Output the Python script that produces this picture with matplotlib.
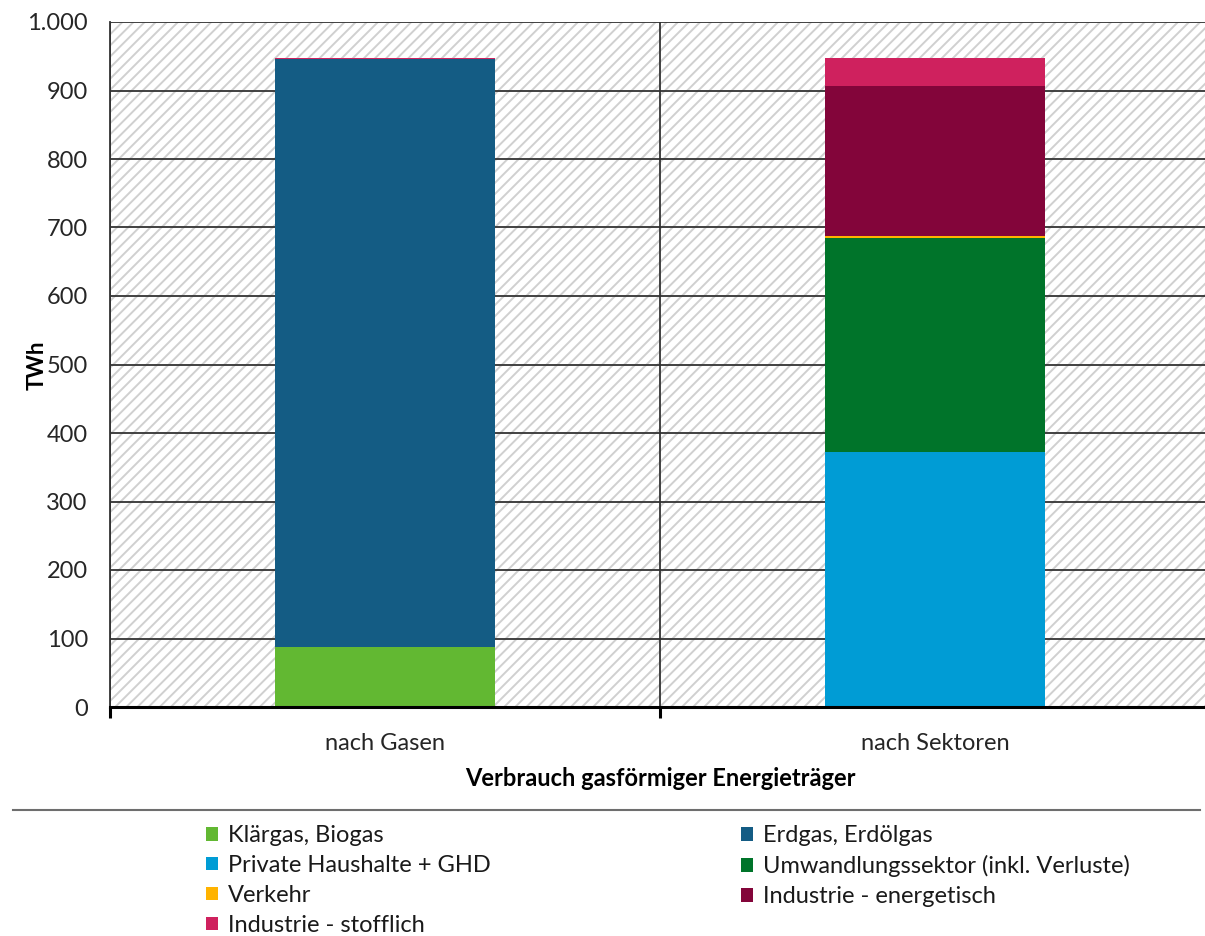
import matplotlib
matplotlib.use("Agg")
import matplotlib.pyplot as plt
from matplotlib.patches import Patch, Rectangle
from matplotlib.lines import Line2D
from matplotlib.ticker import FuncFormatter, FixedLocator

plt.rcParams['font.family'] = ['Lato', 'DejaVu Sans']
plt.rcParams['hatch.linewidth'] = 1.4

categories = ["nach Gasen", "nach Sektoren"]
series_names = ["Klärgas, Biogas", "Erdgas, Erdölgas", "Private Haushalte + GHD",
                "Umwandlungssektor (inkl. Verluste)", "Verkehr",
                "Industrie - energetisch", "Industrie - stofflich"]
klaergas = [87, 0]
erdgas = [859, 0]
private = [0, 372]
umwandlung = [0, 312]
verkehr = [0, 3]
energetisch = [0, 220]
stofflich = [1.5, 40]
colors = ["#62B832", "#145C84", "#009CD5", "#00742A", "#FFB300", "#83053A", "#CF215E"]
yticks = [0, 100, 200, 300, 400, 500, 600, 700, 800, 900, 1000]
y_label = "TWh"
x_label = "Verbrauch gasförmiger Energieträger"

W, H = 1205, 936
fig = plt.figure(figsize=(W / 100, H / 100), dpi=100)
ax = fig.add_axes([110 / W, 1 - 707 / H, 1100 / W, 685 / H])

# hatched background
bg = Rectangle((0, 0), 1, 1, transform=ax.transAxes, facecolor="white",
               edgecolor="#d0d0d0", hatch="///", linewidth=0, zorder=0)
ax.add_patch(bg)

x = [0, 1]
all_series = [klaergas, erdgas, private, umwandlung, verkehr, energetisch, stofflich]
bottom = [0, 0]
handles = []
for name, vals, c in zip(series_names, all_series, colors):
    ax.bar(x, vals, width=0.4, bottom=bottom, color=c, linewidth=0, zorder=3)
    bottom = [b + v for b, v in zip(bottom, vals)]
    handles.append(Patch(facecolor=c, edgecolor="none", label=name))

ax.set_xlim(-0.5, 1.5)
ax.set_ylim(0, 1000)
ax.set_yticks(yticks)
ax.yaxis.set_major_formatter(FuncFormatter(lambda v, p: f"{int(v):,}".replace(",", ".")))
ax.set_xticks(x)
ax.set_xticklabels(categories)
ax.xaxis.set_minor_locator(FixedLocator([-0.5, 0.5, 1.5]))
ax.tick_params(axis="x", which="major", length=0, labelsize=17, colors="#262626", pad=19)
ax.tick_params(axis="x", which="minor", length=8, width=2.2, direction="out", color="black")
ax.tick_params(axis="y", length=0, labelsize=17, colors="#262626", pad=16)

ax.grid(axis="y", color="#333333", linewidth=1.3, zorder=1)
ax.grid(axis="x", which="minor", color="#333333", linewidth=1.3, zorder=1)
ax.set_axisbelow(True)

for s in ["top", "right"]:
    ax.spines[s].set_visible(False)
ax.spines["left"].set_color("#333333")
ax.spines["left"].set_linewidth(1.3)
ax.spines["bottom"].set_color("black")
ax.spines["bottom"].set_linewidth(2.2)
ax.spines["bottom"].set_zorder(5)

fig.text(37 / W, 1 - 365 / H, y_label, rotation=90, ha="center", va="center",
         fontsize=16, fontweight="bold", color="black")
fig.text(660 / W, 1 - 779 / H, x_label, ha="center", va="center",
         fontsize=17, fontweight="bold", color="black")

fig.add_artist(Line2D([13 / W, 1200 / W], [1 - 810 / H, 1 - 810 / H],
                      color="#6e6e6e", linewidth=1.5, transform=fig.transFigure))

col1 = [handles[0], handles[2], handles[4], handles[6]]
col2 = [handles[1], handles[3], handles[5]]
kw = dict(loc="upper left", frameon=False, fontsize=17, handlelength=0.52,
          handleheight=0.52, handletextpad=0.4, labelspacing=0.38, borderpad=0,
          borderaxespad=0, labelcolor="#1a1a1a")
leg1 = fig.legend(handles=col1, bbox_to_anchor=(206 / W, 1 - 825 / H), **kw)
leg2 = fig.legend(handles=col2, bbox_to_anchor=(741 / W, 1 - 825 / H), **kw)

fig.savefig("out.png", dpi=100)
